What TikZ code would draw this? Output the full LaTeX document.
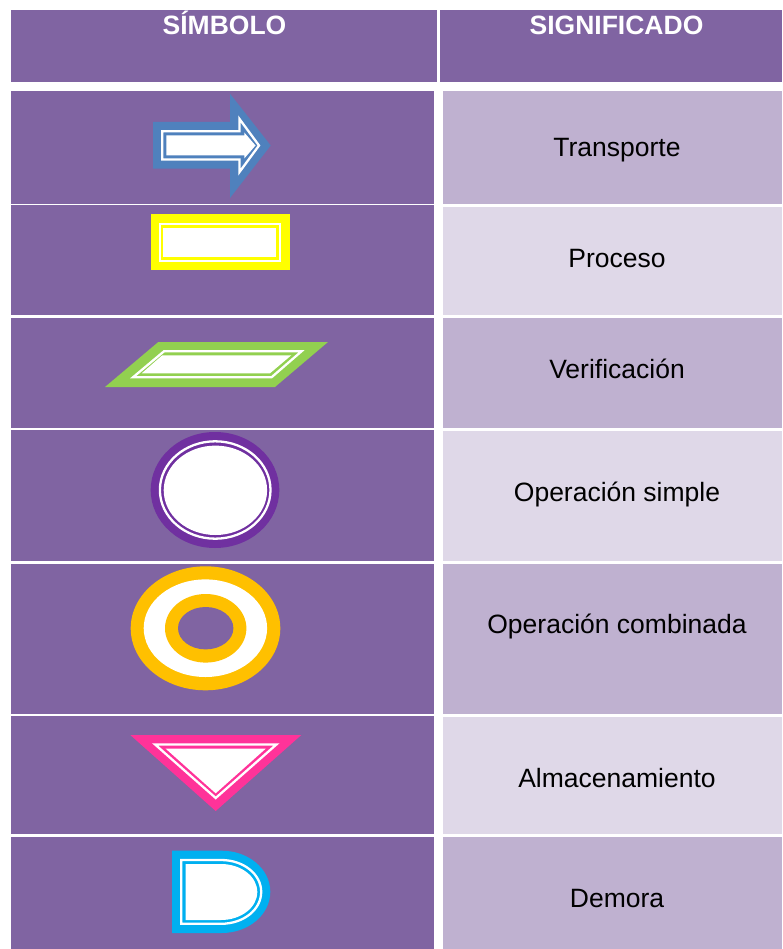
\documentclass[tikz,border=0pt]{standalone}
\usepackage{fontspec}
\setmainfont{Liberation Sans}
\definecolor{cellpurple}{HTML}{8064A2}
\definecolor{celldark}{HTML}{BFB1D0}
\definecolor{celllight}{HTML}{DFD8E8}
\definecolor{arrowblue}{HTML}{4F81BD}
\definecolor{symyellow}{HTML}{FFFF00}
\definecolor{symgreen}{HTML}{92D050}
\definecolor{symviolet}{HTML}{7030A0}
\definecolor{symamber}{HTML}{FFC000}
\definecolor{sympink}{HTML}{FF3399}
\definecolor{symcyan}{HTML}{00B0F0}
\tikzset{
  headtext/.style={anchor=base,inner sep=0pt,text=white,font=\fontsize{26.5}{30}\selectfont\bfseries},
  celltext/.style={anchor=base,inner sep=0pt,text=black,font=\fontsize{26.5}{30}\selectfont},
  ringline/.style={draw=white,line width=2.3pt,line join=miter,miter limit=10}
}
\begin{document}
\begin{tikzpicture}[x=1pt,y=-1pt]
\useasboundingbox (0,0) rectangle (782,949);
% header
\fill[cellpurple] (11,10) rectangle (437,82);
\fill[cellpurple] (440,10) rectangle (782,82);
% left column
\fill[cellpurple] (11,91) rectangle (434,204);
\fill[cellpurple] (11,205) rectangle (434,315);
\fill[cellpurple] (11,318) rectangle (434,428);
\fill[cellpurple] (11,430) rectangle (434,561);
\fill[cellpurple] (11,564) rectangle (434,714);
\fill[cellpurple] (11,715.5) rectangle (434,834);
\fill[cellpurple] (11,837) rectangle (434,949);
% right column
\fill[celldark] (443,91) rectangle (782,204);
\fill[celllight] (443,207) rectangle (782,315);
\fill[celldark] (443,318) rectangle (782,428);
\fill[celllight] (443,431) rectangle (782,561);
\fill[celldark] (443,564) rectangle (782,714);
\fill[celllight] (443,717) rectangle (782,834);
\fill[celldark] (443,837) rectangle (782,949);
% arrow
\fill[arrowblue] (153,122) -- (230,122) -- (230,93.7) -- (270.7,145.5) -- (230,198) -- (230,168.7) -- (153,168.7) -- cycle;
\draw[ringline] (162.2,131.2) -- (239.5,131.2) -- (239.5,119) -- (259,145.5) -- (239.5,172) -- (239.5,159.6) -- (162.2,159.6) -- cycle;
\fill[white] (166.3,135.5) -- (244.3,135.5) -- (244.3,132.5) -- (255.5,145.5) -- (244.3,158.5) -- (244.3,155.5) -- (166.3,155.5) -- cycle;
% rectangle
\fill[symyellow] (150.5,214.5) rectangle (289.5,270.5);
\draw[ringline] (159.7,223.7) rectangle (280.3,261);
\fill[white] (163.3,227.7) rectangle (276,257);
% parallelogram
\fill[symgreen] (158.3,342) -- (328,342) -- (275,387) -- (105,387) -- cycle;
\draw[ringline] (164,351.3) -- (301.5,351.3) -- (271.5,377.3) -- (133,377.3) -- cycle;
\fill[white] (162.3,355.3) -- (291.3,355.3) -- (270,373.3) -- (141.7,373.3) -- cycle;
% circle
\fill[symviolet] (215,490) ellipse [x radius=64.3,y radius=58];
\draw[ringline] (215.2,490) ellipse [x radius=55.3,y radius=48.7];
\fill[white] (215.4,490.3) ellipse [x radius=51.7,y radius=44.7];
% double ring
\fill[symamber] (205.5,628.3) ellipse [x radius=74.8,y radius=62];
\fill[white] (205.4,628.2) ellipse [x radius=61.7,y radius=48.8];
\fill[symamber] (205.7,628.3) ellipse [x radius=40.7,y radius=34.3];
\fill[cellpurple] (205.7,628.2) ellipse [x radius=27.7,y radius=21.2];
% triangle
\fill[sympink] (130.3,735) -- (301.3,735) -- (215.7,811) -- cycle;
\draw[ringline] (155,744.4) -- (276.5,744.4) -- (215.7,798) -- cycle;
\fill[white] (165.7,748.7) -- (265.7,748.7) -- (215.7,793.3) -- cycle;
% delay
\fill[symcyan] (172,850.7) -- (221.7,850.7) .. controls (248.5,850.7) and (270.3,869) .. (270.3,891.8) .. controls (270.3,914.6) and (248.5,933) .. (221.7,933) -- (172,933) -- cycle;
\draw[ringline] (181.2,860) -- (221,860) .. controls (243.6,860) and (261.2,874.2) .. (261.2,891.9) .. controls (261.2,909.6) and (243.6,923.8) .. (221,923.8) -- (181.2,923.8) -- cycle;
\fill[white] (185.7,864) -- (221,864) .. controls (241,864) and (257.3,876.5) .. (257.3,892) .. controls (257.3,907.5) and (241,920) .. (221,920) -- (185.7,920) -- cycle;
% texts
\node[headtext] (h1) at (224.5,34.6) {SÍMBOLO};
\node[headtext] (h2) at (616.5,34.6) {SIGNIFICADO};
\node[celltext] (t1) at (617,156.6) {Transporte};
\node[celltext] (t2) at (617,267.6) {Proceso};
\node[celltext] (t3) at (617,378) {Verificación};
\node[celltext] (t4) at (617,501) {Operación simple};
\node[celltext] (t5) at (617,633) {Operación combinada};
\node[celltext] (t6) at (617,787) {Almacenamiento};
\node[celltext] (t7) at (617,907) {Demora};
\end{tikzpicture}
\end{document}
